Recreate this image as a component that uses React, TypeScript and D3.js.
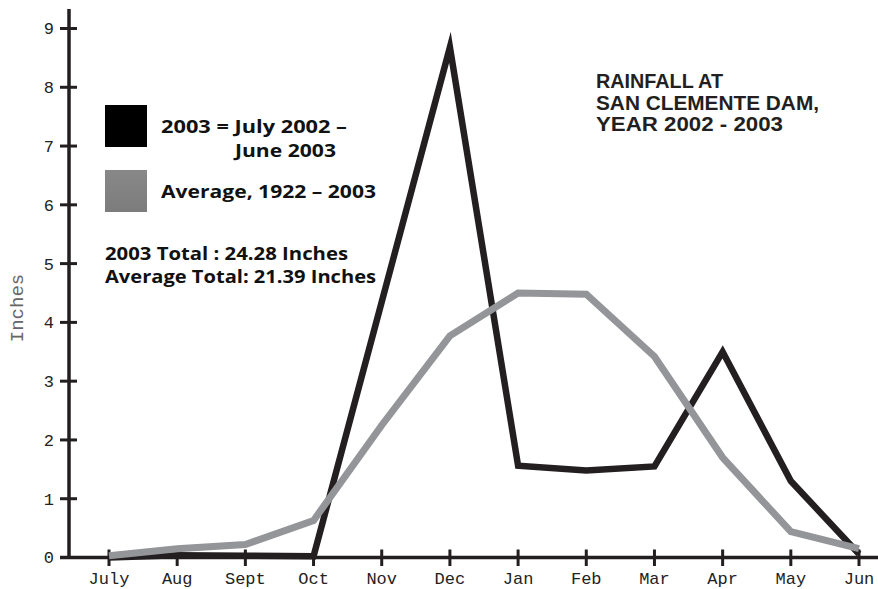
import React from "react";
import * as d3 from "d3";

const months = ["July", "Aug", "Sept", "Oct", "Nov", "Dec", "Jan", "Feb", "Mar", "Apr", "May", "Jun"];
const rain2003 = [0.0, 0.04, 0.03, 0.02, 4.35, 8.68, 1.56, 1.48, 1.55, 3.5, 1.3, 0.06];
const rainAverage = [0.03, 0.15, 0.22, 0.63, 2.25, 3.77, 4.5, 4.48, 3.42, 1.7, 0.44, 0.15];
const yTicks = [0, 1, 2, 3, 4, 5, 6, 7, 8, 9];
const titleLines = ["RAINFALL AT", "SAN CLEMENTE DAM,", "YEAR 2002 - 2003"];
const legendLabel2003 = ["2003 = July 2002 \u2013", "June 2003"];
const legendLabelAvg = "Average, 1922 \u2013 2003";
const totals = ["2003 Total : 24.28 Inches", "Average Total: 21.39 Inches"];

const W = 878;
const H = 589;

export default function App() {
  const x = d3.scalePoint<string>().domain(months).range([109, 859]);
  const y = d3.scaleLinear().domain([0, 9]).range([557.5, 28.5]);

  const line = d3
    .line<number>()
    .x((_, i) => x(months[i]) as number)
    .y((d) => y(d));

  const axisColor = "#231f20";
  const monoFont = "'Courier New', Courier, 'Liberation Mono', monospace";
  const legendFont = "'Open Sans', Lato, sans-serif";

  const titleWidths = [127, 223, 187];

  return (
    <svg
      width={W}
      height={H}
      viewBox={`0 0 ${W} ${H}`}
      style={{ position: "absolute", left: 0, top: 0, background: "#fff" }}
    >
      <rect x={0} y={0} width={W} height={H} fill="#fff" />

      {/* y axis */}
      <line x1={69} x2={69} y1={9} y2={y(0) + 1.5} stroke={axisColor} strokeWidth={3.5} />
      {yTicks.map((t) => (
        <g key={t}>
          <line x1={60} x2={77} y1={y(t)} y2={y(t)} stroke={axisColor} strokeWidth={3} />
          <text
            x={54}
            y={y(t)}
            dy="0.35em"
            textAnchor="end"
            fontFamily={monoFont}
            fontSize={17}
            fill="#222"
          >
            {t}
          </text>
        </g>
      ))}
      <text
        transform={`translate(23, 308) rotate(-90)`}
        textAnchor="middle"
        fontFamily={monoFont}
        fontSize={19}
        fill="#666"
      >
        Inches
      </text>

      {/* x axis */}
      <line x1={60} x2={878} y1={y(0)} y2={y(0)} stroke={axisColor} strokeWidth={3.5} />
      {months.map((m) => (
        <g key={m}>
          <line
            x1={x(m)}
            x2={x(m)}
            y1={y(0) - 8}
            y2={y(0) + 8.5}
            stroke={axisColor}
            strokeWidth={3}
          />
          <text
            x={x(m)}
            y={584}
            textAnchor="middle"
            fontFamily={monoFont}
            fontSize={17}
            fill="#222"
          >
            {m}
          </text>
        </g>
      ))}

      {/* series */}
      <path
        d={line(rain2003) || ""}
        fill="none"
        stroke="#231f20"
        strokeWidth={6.5}
        strokeLinejoin="miter"
        strokeMiterlimit={10}
      />
      <path
        d={line(rainAverage) || ""}
        fill="none"
        stroke="#939598"
        strokeWidth={7}
        strokeLinejoin="miter"
        strokeMiterlimit={10}
      />

      {/* legend */}
      <rect x={105} y={105} width={42} height={42} fill="#000" />
      <defs>
        <linearGradient id="grayGrad" x1="0" y1="0" x2="0" y2="1">
          <stop offset="0" stopColor="#888" />
          <stop offset="1" stopColor="#7c7c7c" />
        </linearGradient>
      </defs>
      <rect x={105} y={170} width={42} height={42} fill="url(#grayGrad)" />
      <g fontFamily={legendFont} fontWeight={700} fontSize={18} fill="#111">
        <text x={161} y={133} textLength={186} lengthAdjust="spacingAndGlyphs">{legendLabel2003[0]}</text>
        <text x={235} y={157} textLength={101} lengthAdjust="spacingAndGlyphs">{legendLabel2003[1]}</text>
        <text x={161} y={198} textLength={215} lengthAdjust="spacingAndGlyphs">{legendLabelAvg}</text>
        <text x={105} y={260} textLength={243} lengthAdjust="spacingAndGlyphs">{totals[0]}</text>
        <text x={105} y={283} textLength={271} lengthAdjust="spacingAndGlyphs">{totals[1]}</text>
      </g>

      {/* title */}
      <g fontFamily="'Liberation Sans', Arial, Helvetica, sans-serif" fontWeight={700} fontSize={20} fill="#231f20">
        {titleLines.map((t, i) => (
          <text key={t} x={596} y={88 + i * 21.6} textLength={titleWidths[i]} lengthAdjust="spacingAndGlyphs">
            {t}
          </text>
        ))}
      </g>
    </svg>
  );
}
